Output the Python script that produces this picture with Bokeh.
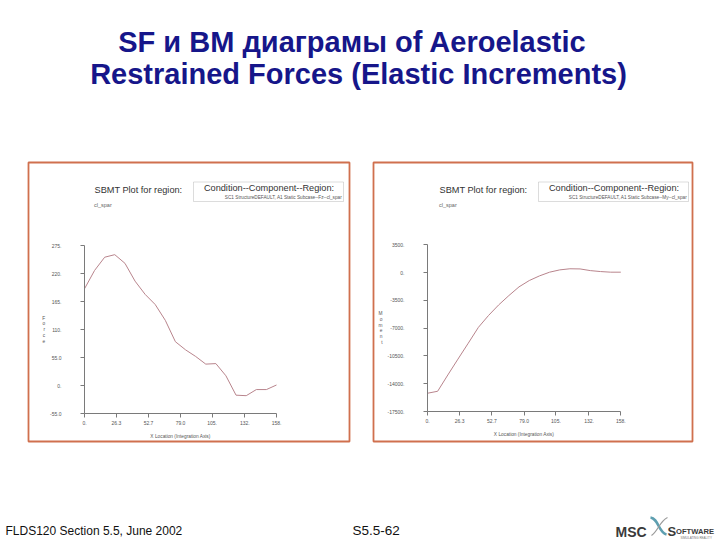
from bokeh.plotting import figure
from bokeh.models import (Range1d, LinearAxis, FixedTicker, CustomJSTickFormatter,
                          Label, ColumnDataSource, Spacer, BoxAnnotation)
from bokeh.layouts import column, row
from bokeh.embed import file_html
from bokeh.resources import INLINE

# ---------------- data ----------------
station = [0, 8.3, 16.6, 24.9, 33.3, 41.6, 49.9, 58.2, 66.5, 74.8,
           83.2, 91.5, 99.8, 108.1, 116.4, 124.7, 133.1, 141.4, 149.7, 158.0]
force = [190, 226, 252, 257, 240, 205, 179, 159, 128, 86,
         70, 57, 42, 43, 19, -19, -20, -8, -8, 1]
moment = [-15200, -14950, -12900, -10900, -8900, -6900, -5400, -4070, -2900, -1800,
          -1000, -420, 50, 340, 480, 460, 250, 130, 50, 50]

x_ticks = [0, 26.3, 52.7, 79.0, 105, 132, 158]
x_tick_labels = ["0.", "26.3", "52.7", "79.0", "105.", "132.", "158."]
force_ticks = [-55, 0, 55, 110, 165, 220, 275]
force_tick_labels = ["-55.0", "0.", "55.0", "110.", "165.", "220.", "275."]
moment_ticks = [-17500, -14000, -10500, -7000, -3500, 0, 3500]
moment_tick_labels = ["-17500.", "-14000.", "-10500.", "-7000.", "-3500.", "0.", "3500."]

title_lines = ["SF и BM диаграмы of Aeroelastic", "Restrained Forces (Elastic Increments)"]
footer_left = "FLDS120 Section 5.5, June 2002"
footer_mid = "S5.5-62"
panel_title = "SBMT Plot for region:"
region_name = "cl_spar"
legend_title = "Condition--Component--Region:"
force_entry = "SC1 StructureDEFAULT, A1 Static Subcase--Fz--cl_spar"
moment_entry = "SC1 StructureDEFAULT, A1 Static Subcase--My--cl_spar"
x_label = "X Location (Integration Axis)"

# ---------------- styles ----------------
FONT = "Liberation Sans"
TITLE_BLUE = "#16168a"
BORDER = "#d0704e"
CURVE = "#b8848c"
AXIS = "#7a7a7a"
TXT = "#555555"
PAD = 2


def fmt(vals, labels):
    return CustomJSTickFormatter(args=dict(vals=vals, labels=labels), code="""
        let best = 0, bd = Infinity;
        for (let i = 0; i < vals.length; i++) {
            const d = Math.abs(vals[i] - tick);
            if (d < bd) { bd = d; best = i; }
        }
        return labels[best];
    """)


def panel(frame_w, frame_h, xpx, ypx, xd, yd, yticks, ylabels, ylab, yvals, entry):
    # xpx: frame-local pixel of xd[0], xd[1]; ypx: pixel of yd[0] (top), yd[1] (bottom)
    sx = (xpx[1] - xpx[0]) / (xd[1] - xd[0])
    x0 = xd[0] - xpx[0] / sx
    x1 = x0 + frame_w / sx
    sy = (ypx[1] - ypx[0]) / (yd[0] - yd[1])
    y1 = yd[0] + ypx[0] / sy
    y0 = y1 - frame_h / sy

    def X(px):
        return x0 + px / sx

    def Y(py):
        return y1 - py / sy

    p = figure(width=frame_w + 2 * PAD, height=frame_h + 2 * PAD,
               x_range=Range1d(x0, x1), y_range=Range1d(y0, y1),
               x_axis_type=None, y_axis_type=None, title=None,
               min_border=PAD, output_backend="svg", toolbar_location=None)
    p.outline_line_color = BORDER
    p.outline_line_width = 1.8
    p.background_fill_color = "white"
    p.border_fill_color = "white"

    xa = LinearAxis(fixed_location=yd[1], bounds=(xd[0], xd[1]),
                    ticker=FixedTicker(ticks=x_ticks, minor_ticks=[]),
                    formatter=fmt(x_ticks, x_tick_labels), axis_label=x_label)
    ya = LinearAxis(fixed_location=xd[0], bounds=(yd[1], yd[0]),
                    ticker=FixedTicker(ticks=yticks, minor_ticks=[]),
                    formatter=fmt(yticks, ylabels), axis_label="\n".join(ylab))
    for a in (xa, ya):
        a.axis_line_color = AXIS
        a.major_tick_line_color = AXIS
        a.major_tick_out = 4
        a.major_tick_in = 0
        a.minor_tick_out = 0
        a.minor_tick_in = 0
        a.major_label_text_font = FONT
        a.major_label_text_font_size = "5px"
        a.major_label_text_color = TXT
        a.axis_label_text_font = FONT
        a.axis_label_text_font_size = "4.8px"
        a.axis_label_text_font_style = "normal"
        a.axis_label_text_color = TXT
    xa.major_label_standoff = 3
    xa.axis_label_standoff = 6
    ya.major_label_standoff = 19
    ya.axis_label_standoff = 2
    ya.axis_label_orientation = "horizontal"
    ya.axis_label_text_line_height = 1.15
    p.add_layout(xa, "below")
    p.add_layout(ya, "left")

    src = ColumnDataSource(dict(x=station, y=yvals))
    p.line(x="x", y="y", source=src, line_color=CURVE, line_width=1)

    # header texts
    p.add_layout(Label(x=X(66), y=Y(27.5), text=panel_title, text_font=FONT,
                       text_font_size="9.2px", text_color="#333333",
                       text_baseline="middle", text_align="left"))
    p.add_layout(Label(x=X(65.5), y=Y(42), text=region_name, text_font=FONT,
                       text_font_size="5.5px", text_color="#666666",
                       text_baseline="middle", text_align="left"))
    # legend box
    p.add_layout(BoxAnnotation(left=X(165), right=X(315), top=Y(19.5), bottom=Y(39),
                               fill_color="white", fill_alpha=1.0,
                               line_color="#8a8a8a", line_width=1))
    p.add_layout(Label(x=X(240.5), y=Y(25), text=legend_title, text_font=FONT,
                       text_font_size="9.2px", text_color="#333333",
                       text_baseline="middle", text_align="center"))
    p.segment(x0=[X(176)], y0=[Y(29.2)], x1=[X(305)], y1=[Y(29.2)],
              line_color="#333333", line_width=0.8)
    p.segment(x0=[X(168)], y0=[Y(34.5)], x1=[X(186.5)], y1=[Y(34.5)],
              line_color=CURVE, line_width=0.8)
    p.add_layout(Label(x=X(313.5), y=Y(34.5), text=entry, text_font=FONT,
                       text_font_size="4.7px", text_color="#555555",
                       text_baseline="middle", text_align="right"))
    return p


left = panel(321, 279, (56, 248), (83, 251), (0, 158), (275, -55),
             force_ticks, force_tick_labels, "Force", force, force_entry)
right = panel(319, 279, (54, 247.3), (82.3, 249), (0, 158), (3500, -17500),
              moment_ticks, moment_tick_labels, "Moment", moment, moment_entry)

# ---------------- title ----------------
W = 720
TH = 160
RH = 283
top = figure(width=W, height=TH, x_range=Range1d(0, W), y_range=Range1d(TH, 0),
             x_axis_type=None, y_axis_type=None, title=None, min_border=0,
             output_backend="svg", toolbar_location=None)
top.outline_line_color = None
top.add_layout(Label(x=352, y=41.5, text=title_lines[0], text_font=FONT,
                     text_font_size="29px", text_font_style="bold",
                     text_color=TITLE_BLUE, text_align="center", text_baseline="alphabetic"))
top.add_layout(Label(x=358, y=73.5, text=title_lines[1], text_font=FONT,
                     text_font_size="29px", text_font_style="bold",
                     text_color=TITLE_BLUE, text_align="center", text_baseline="alphabetic"))

# ---------------- footer ----------------
FH = 540 - TH - RH
foot = figure(width=W, height=FH, x_range=Range1d(0, W), y_range=Range1d(FH, 0),
              x_axis_type=None, y_axis_type=None, title=None, min_border=0,
              output_backend="svg", toolbar_location=None)
foot.outline_line_color = None
foot.add_layout(Label(x=5, y=87, text=footer_left, text_font=FONT, text_font_size="12px",
                      text_color="#111111", text_align="left", text_baseline="alphabetic"))
foot.add_layout(Label(x=352, y=87, text=footer_mid, text_font=FONT, text_font_size="13.5px",
                      text_color="#111111", text_align="left", text_baseline="alphabetic"))
# MSC Software logo (approximation)
foot.add_layout(Label(x=615, y=88, text="MSC", text_font=FONT, text_font_size="14px",
                      text_font_style="bold", text_color="#3a3a3a", text_align="left",
                      text_baseline="alphabetic"))
foot.bezier(x0=[650], y0=[74], x1=[666], y1=[91], cx0=[658], cy0=[75], cx1=[658], cy1=[89],
            line_color="#5e9fb0", line_width=2.5)
foot.bezier(x0=[651], y0=[92], x1=[667], y1=[74], cx0=[658], cy0=[87], cx1=[659], cy1=[78],
            line_color="#9a9a9a", line_width=1.2)
foot.add_layout(Label(x=667, y=88, text="S", text_font=FONT, text_font_size="13px",
                      text_font_style="bold", text_color="#3a3a3a", text_align="left",
                      text_baseline="alphabetic"))
foot.add_layout(Label(x=675.5, y=88, text="OFTWARE", text_font=FONT, text_font_size="7.6px",
                      text_font_style="bold", text_color="#3a3a3a", text_align="left",
                      text_baseline="alphabetic"))
foot.add_layout(Label(x=680, y=94, text="SIMULATING REALITY", text_font=FONT,
                      text_font_size="3px", text_color="#777777", text_align="left",
                      text_baseline="alphabetic"))

mid = row(Spacer(width=26, height=RH), left, Spacer(width=20, height=RH), right)
layout = column(top, mid, foot)

open("out.html", "w").write(file_html(layout, INLINE))
